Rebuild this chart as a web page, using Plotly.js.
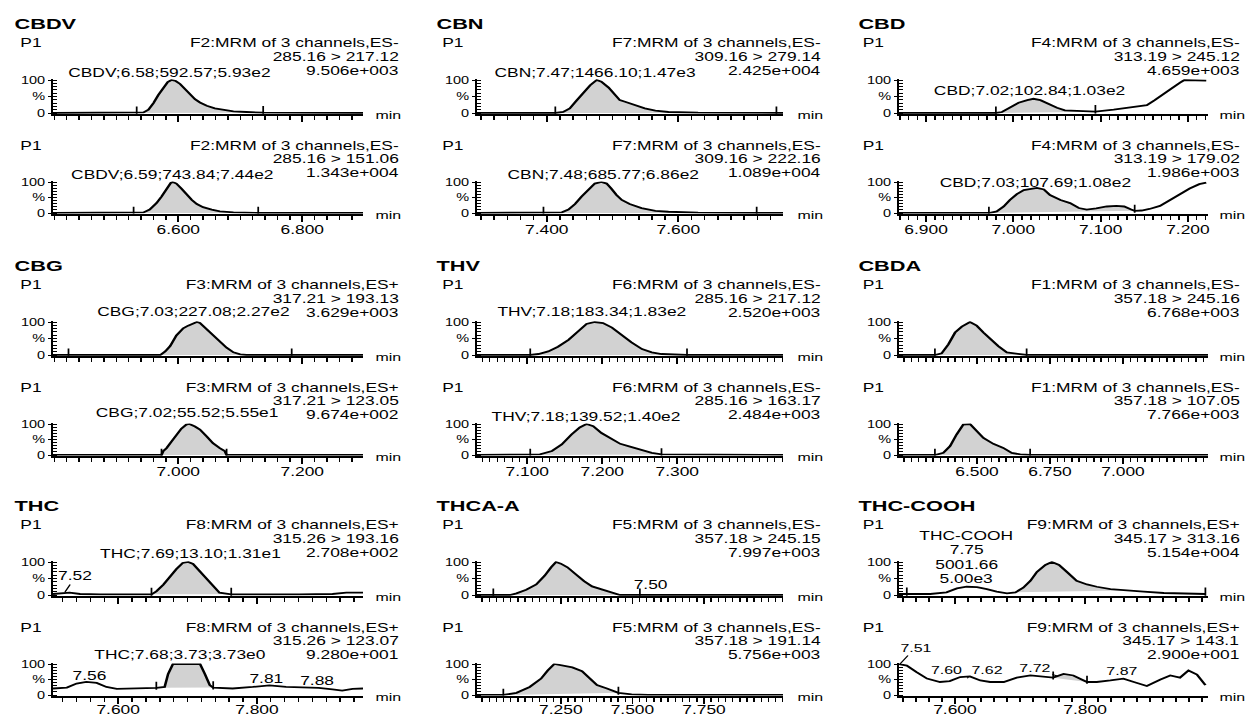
<!DOCTYPE html>
<html>
<head>
<meta charset="utf-8">
<script src="https://cdn.plot.ly/plotly-3.0.1.min.js"></script>
<style>
html,body{margin:0;padding:0;background:#fff;overflow:hidden;}
#wrap{width:1247px;height:717px;overflow:hidden;}
#chart{width:860px;height:717px;transform:scaleX(1.45);transform-origin:0 0;}
</style>
</head>
<body>
<div id="wrap"><div id="chart"></div></div>
<script>
// ---------------- DATA ----------------
const compounds = ["CBDV", "CBN", "CBD", "CBG", "THV", "CBDA", "THC", "THCA-A", "THC-COOH"];
const functionNo = [2, 7, 4, 3, 6, 1, 8, 5, 9];
const ionMode = ["ES-", "ES-", "ES-", "ES+", "ES-", "ES-", "ES+", "ES-", "ES+"];
const parentMz = [285.16, 309.16, 313.19, 317.21, 285.16, 357.18, 315.26, 357.18, 345.17];
const daughterMzA = [217.12, 279.14, 245.12, 193.13, 217.12, 245.16, 193.16, 245.15, 313.16];
const daughterMzB = [151.06, 222.16, 179.02, 123.05, 163.17, 107.05, 123.07, 191.14, 143.1];
const intensityA = [9506, 24250, 4659, 3629, 2520, 6768, 270.8, 7997, 51540];
const intensityB = [13430, 10890, 1986, 967.4, 2484, 7766, 92.80, 5756, 29.00];

const peakRtA = [6.58, 7.47, 7.02, 7.03, 7.18, null, 7.69, null, 7.75];
const peakAreaA = [592.57, 1466.10, 102.84, 227.08, 183.34, null, 13.10, null, 5001.66];
const peakHeightA = [593, 1470, 103, 227, 183, null, 13.1, null, 5000];
const peakRtB = [6.59, 7.48, 7.03, 7.02, 7.18, null, 7.68, null, null];
const peakAreaB = [743.84, 685.77, 107.69, 55.52, 139.52, null, 3.73, null, null];
const peakHeightB = [744, 686, 108, 55.5, 140, null, 3.73, null, null];

// retention-time axes (min)
const timeRange = [[6.398, 6.898], [7.294, 7.759], [6.869, 7.223], [6.798, 7.298], [7.033, 7.441],
                   [6.233, 7.291], [7.506, 7.953], [6.957, 8.026], [7.514, 7.989]];
const tickLabels = [[6.6, 6.8], [7.4, 7.6], [6.9, 7.0, 7.1, 7.2], [7.0, 7.2], [7.1, 7.2, 7.3],
                    [6.5, 6.75, 7.0], [7.6, 7.8], [7.25, 7.5, 7.75], [7.6, 7.8]];
const minorStep = [0.02, 0.02, 0.01, 0.02, 0.01, 0.025, 0.02, 0.025, 0.02];

// chromatograms: time (min) and relative intensity (%)
const cbdvTimeA = [6.398, 6.533, 6.544, 6.552, 6.560, 6.568, 6.576, 6.583, 6.589, 6.596, 6.603, 6.611, 6.619, 6.627, 6.635, 6.646, 6.659, 6.673, 6.689, 6.710, 6.737, 6.898];
const cbdvPctA  = [0, 0, 2, 10, 30, 55, 78, 94, 100, 97, 88, 72, 55, 42, 32, 22, 14, 9, 5, 3, 1, 0];
const cbdvTimeB = [6.398, 6.528, 6.544, 6.554, 6.565, 6.573, 6.581, 6.588, 6.591, 6.597, 6.605, 6.614, 6.622, 6.630, 6.640, 6.654, 6.667, 6.689, 6.729, 6.898];
const cbdvPctB  = [0, 0, 2, 11, 32, 53, 79, 97, 100, 95, 79, 58, 42, 29, 19, 11, 5, 2, 0, 0];

const cbnTimeA = [7.294, 7.413, 7.425, 7.435, 7.445, 7.456, 7.466, 7.476, 7.483, 7.494, 7.504, 7.511, 7.519, 7.534, 7.549, 7.565, 7.585, 7.630, 7.749, 7.759];
const cbnPctA  = [0, 0, 3, 14, 37, 63, 84, 100, 95, 77, 53, 39, 34, 23, 14, 7, 3, 1, 0, 0];
const cbnTimeB = [7.294, 7.395, 7.423, 7.433, 7.443, 7.453, 7.463, 7.473, 7.483, 7.491, 7.498, 7.506, 7.514, 7.526, 7.544, 7.565, 7.585, 7.630, 7.719, 7.759];
const cbnPctB  = [0, 0, 2, 11, 29, 53, 76, 95, 100, 95, 79, 58, 42, 29, 16, 7, 4, 1, 0, 0];

const cbdTimeA = [6.869, 6.980, 6.987, 6.997, 7.006, 7.016, 7.023, 7.031, 7.040, 7.050, 7.059, 7.073, 7.088, 7.094, 7.115, 7.134, 7.153, 7.162, 7.172, 7.181, 7.191, 7.196, 7.221];
const cbdPctA  = [0, 0, 3, 18, 31, 39, 43, 39, 27, 16, 8, 6, 5, 4, 10, 16, 24, 39, 56, 74, 92, 100, 98];
const cbdTimeB = [6.869, 6.972, 6.981, 6.989, 6.996, 7.004, 7.012, 7.019, 7.027, 7.035, 7.042, 7.054, 7.065, 7.075, 7.084, 7.095, 7.107, 7.118, 7.127, 7.135, 7.139, 7.147, 7.156, 7.168, 7.179, 7.190, 7.202, 7.213, 7.221];
const cbdPctB  = [0, 0, 5, 21, 42, 61, 74, 78, 81, 76, 58, 42, 32, 16, 11, 15, 21, 23, 21, 11, 7, 8, 13, 23, 42, 61, 79, 93, 98];

const cbgTimeA = [6.798, 6.971, 6.979, 6.987, 6.997, 7.008, 7.016, 7.024, 7.030, 7.035, 7.046, 7.057, 7.067, 7.078, 7.089, 7.100, 7.110, 7.298];
const cbgPctA  = [0, 0, 11, 27, 59, 81, 89, 94, 100, 97, 78, 59, 40, 22, 8, 2, 0, 0];
const cbgTimeB = [6.798, 6.973, 6.976, 6.981, 6.989, 6.997, 7.005, 7.013, 7.018, 7.027, 7.035, 7.046, 7.056, 7.067, 7.075, 7.078, 7.298];
const cbgPctB  = [0, 0, 13, 22, 43, 65, 85, 98, 100, 92, 82, 60, 38, 22, 13, 0, 0];

const thvTimeA = [7.033, 7.104, 7.115, 7.128, 7.141, 7.155, 7.168, 7.179, 7.190, 7.201, 7.213, 7.226, 7.239, 7.253, 7.266, 7.279, 7.297, 7.313, 7.441];
const thvPctA  = [0, 0, 3, 11, 25, 46, 72, 94, 100, 97, 83, 61, 38, 18, 8, 3, 2, 0, 0];
const thvTimeB = [7.033, 7.104, 7.117, 7.133, 7.146, 7.159, 7.170, 7.179, 7.188, 7.199, 7.213, 7.224, 7.237, 7.253, 7.266, 7.279, 7.441];
const thvPctB  = [0, 0, 2, 13, 34, 66, 89, 100, 93, 71, 50, 36, 27, 15, 7, 2, 0];

const cbdaTimeA = [6.233, 6.356, 6.379, 6.402, 6.425, 6.448, 6.476, 6.499, 6.522, 6.545, 6.573, 6.602, 6.636, 6.670, 7.291];
const cbdaPctA  = [0, 0, 5, 32, 68, 86, 100, 89, 68, 48, 27, 8, 3, 0, 0];
const cbdaTimeB = [6.233, 6.356, 6.385, 6.408, 6.430, 6.453, 6.476, 6.499, 6.522, 6.556, 6.590, 6.619, 6.648, 6.682, 7.291];
const cbdaPctB  = [0, 0, 7, 29, 66, 98, 100, 77, 55, 36, 23, 7, 2, 0, 0];

const thcTimeA = [7.506, 7.516, 7.530, 7.545, 7.574, 7.648, 7.655, 7.665, 7.674, 7.684, 7.693, 7.701, 7.708, 7.718, 7.727, 7.737, 7.746, 7.763, 7.813, 7.861, 7.909, 7.929, 7.953];
const thcPctA  = [3, 5, 7, 3, 2, 2, 11, 31, 54, 79, 97, 100, 94, 71, 48, 25, 7, 2, 1, 2, 3, 7, 7];
const thcTimeB = [7.506, 7.526, 7.540, 7.554, 7.569, 7.583, 7.598, 7.641, 7.655, 7.667, 7.672, 7.679, 7.718, 7.725, 7.732, 7.737, 7.765, 7.794, 7.818, 7.842, 7.870, 7.889, 7.909, 7.923, 7.938, 7.953];
const thcPctB  = [21, 24, 37, 42, 39, 26, 20, 21, 23, 26, 68, 100, 100, 68, 32, 24, 21, 26, 31, 26, 24, 23, 18, 14, 20, 21];

const thcaTimeA = [6.957, 7.014, 7.072, 7.095, 7.129, 7.164, 7.193, 7.216, 7.233, 7.250, 7.273, 7.302, 7.331, 7.359, 7.394, 7.428, 7.457, 7.526, 8.026];
const thcaPctA  = [0, 0, 0, 5, 16, 32, 58, 84, 100, 95, 84, 63, 42, 26, 16, 7, 0, 0, 0];
const thcaTimeB = [6.957, 7.049, 7.095, 7.141, 7.181, 7.204, 7.227, 7.256, 7.290, 7.324, 7.348, 7.376, 7.411, 7.451, 7.497, 7.555, 8.026];
const thcaPctB  = [0, 0, 7, 26, 53, 79, 100, 95, 89, 77, 58, 32, 21, 7, 2, 0, 0];

const coohTimeA = [7.514, 7.526, 7.562, 7.587, 7.603, 7.618, 7.634, 7.649, 7.664, 7.680, 7.693, 7.705, 7.716, 7.726, 7.739, 7.749, 7.760, 7.772, 7.787, 7.803, 7.818, 7.839, 7.859, 7.890, 7.921, 7.951, 7.985];
const coohPctA  = [3, 3, 3, 8, 20, 25, 24, 18, 10, 5, 8, 22, 43, 70, 91, 100, 91, 70, 43, 32, 25, 18, 14, 10, 6, 4, 3];
const coohTimeB = [7.514, 7.526, 7.541, 7.557, 7.577, 7.592, 7.608, 7.623, 7.639, 7.654, 7.675, 7.695, 7.716, 7.736, 7.751, 7.767, 7.782, 7.803, 7.818, 7.839, 7.859, 7.875, 7.895, 7.916, 7.931, 7.946, 7.959, 7.972, 7.985];
const coohPctB  = [100, 95, 74, 53, 42, 45, 58, 60, 47, 42, 42, 56, 63, 60, 56, 68, 63, 42, 42, 47, 53, 42, 29, 50, 63, 56, 79, 66, 32];

// integration start/end markers (min)
const cbdvMarksA = [6.533, 6.737], cbdvMarksB = [6.528, 6.729];
const cbnMarksA = [7.413, 7.749], cbnMarksB = [7.395, 7.719];
const cbdMarksA = [6.980, 7.094], cbdMarksB = [6.972, 7.139];
const cbgMarksA = [6.823, 7.183], cbgMarksB = [6.973, 7.078];
const thvMarksA = [7.104, 7.313], thvMarksB = [7.104, 7.279];
const cbdaMarksA = [6.356, 6.670], cbdaMarksB = [6.356, 6.682];
const thcMarksA = [7.648, 7.763], thcMarksB = [7.655, 7.737];
const thcaMarksA = [7.014, 7.526], thcaMarksB = [7.049, 7.451];
const coohMarksA = [7.526, 7.985], coohMarksB = [7.751, 7.803];

// integrated (shaded) areas (min)
const cbdvAreaA = [6.533, 6.737], cbdvAreaB = [6.528, 6.729];
const cbnAreaA = [7.413, 7.749], cbnAreaB = [7.395, 7.719];
const cbdAreaA = [6.980, 7.094], cbdAreaB = [6.972, 7.139];
const cbgAreaA = [6.971, 7.110], cbgAreaB = [6.973, 7.078];
const thvAreaA = [7.104, 7.313], thvAreaB = [7.104, 7.279];
const cbdaAreaA = [6.356, 6.670], cbdaAreaB = [6.356, 6.682];
const thcAreaA = [7.648, 7.763], thcAreaB = [7.655, 7.737];
const thcaAreaA = [7.072, 7.457], thcaAreaB = [7.049, 7.451];
const coohAreaA = [7.693, 7.859], coohAreaB = [7.751, 7.803];

// small peak retention-time labels
const thcPeakLabelsA = ["7.52"];
const thcPeakLabelsB = ["7.56", "7.81", "7.88"];
const thcaPeakLabelsA = ["7.50"];
const coohPeakLabelsB = ["7.51", "7.60", "7.62", "7.72", "7.87"];

// ---------------- LAYOUT / STYLE ----------------
const W = 1247, H = 717, S = 1.45;
const FONT = 'Liberation Sans, Arial, Helvetica, sans-serif';
const colL = [53, 477, 899], colR = [363, 783, 1208];
const colTitleX = [12, 433, 855], colP1X = [18, 440, 860], colTextR = [402, 823, 1243];
const colMinX = [373, 794, 1216];
const rowOff = [0, 242, 482];
const titleY = 23;
const subGeom = [
  {l1: 43, l2: 57, l3: 71, top: 80, base: 113},
  {l1: 146, l2: 159, l3: 173, top: 182, base: 213}
];
const labelPosA = [[169, 73], [595, 73], [1029, 91], [194, 312], [592, 312], null, [190, 554], null, [967, 536]];
const labelPosB = [[172, 175], [603, 175], [1036, 183], [187, 413], [587, 417], null, [180, 655], null, null];
// small label placement: [textX, textY, tipX, tipY, fontSize] (tip null = no leader)
const smallLabelPlace = {
  "6-0": [[76, 576, 65, 592, 12]],
  "6-1": [[90, 676, null, null, 12], [267, 679, null, null, 12], [317, 681, null, null, 12]],
  "7-0": [[651, 585, null, null, 12]],
  "8-1": [[915, 648, 900, 664, 11], [946, 670, null, null, 11], [986, 670, 967, 678, 11], [1035, 668, 1057, 676, 11], [1122, 671, null, null, 11]]
};
const smallLabelText = {"6-0": thcPeakLabelsA, "6-1": thcPeakLabelsB, "7-0": thcaPeakLabelsA, "8-1": coohPeakLabelsB};

const curveT = [[cbdvTimeA, cbdvTimeB], [cbnTimeA, cbnTimeB], [cbdTimeA, cbdTimeB], [cbgTimeA, cbgTimeB], [thvTimeA, thvTimeB],
                [cbdaTimeA, cbdaTimeB], [thcTimeA, thcTimeB], [thcaTimeA, thcaTimeB], [coohTimeA, coohTimeB]];
const curveY = [[cbdvPctA, cbdvPctB], [cbnPctA, cbnPctB], [cbdPctA, cbdPctB], [cbgPctA, cbgPctB], [thvPctA, thvPctB],
                [cbdaPctA, cbdaPctB], [thcPctA, thcPctB], [thcaPctA, thcaPctB], [coohPctA, coohPctB]];
const marks = [[cbdvMarksA, cbdvMarksB], [cbnMarksA, cbnMarksB], [cbdMarksA, cbdMarksB], [cbgMarksA, cbgMarksB], [thvMarksA, thvMarksB],
               [cbdaMarksA, cbdaMarksB], [thcMarksA, thcMarksB], [thcaMarksA, thcaMarksB], [coohMarksA, coohMarksB]];
const areas = [[cbdvAreaA, cbdvAreaB], [cbnAreaA, cbnAreaB], [cbdAreaA, cbdAreaB], [cbgAreaA, cbgAreaB], [thvAreaA, thvAreaB],
               [cbdaAreaA, cbdaAreaB], [thcAreaA, thcAreaB], [thcaAreaA, thcaAreaB], [coohAreaA, coohAreaB]];

const fx = x => x / W;
const fy = y => 1 - y / H;
const fmtInt = v => { const [m, e] = v.toExponential(3).split('e'); const n = parseInt(e, 10);
  return m + 'e' + (n < 0 ? '-' : '+') + String(Math.abs(n)).padStart(3, '0'); };
const fmtH = v => v.toExponential(2).replace('e+', 'e');
const nearestVal = (ts, vs, t) => { let bi = 0, bd = Infinity; ts.forEach((x, i) => { const d = Math.abs(x - t); if (d < bd) { bd = d; bi = i; } }); return vs[bi]; };

const traces = [];
const layout = {
  width: 860, height: 717, margin: {l: 0, r: 0, t: 0, b: 0, pad: 0},
  paper_bgcolor: '#fff', plot_bgcolor: 'rgba(0,0,0,0)', showlegend: false,
  font: {family: FONT, size: 12, color: '#000'}, annotations: []
};
const ann = (text, xpx, ypx, extra) => Object.assign({
  text, x: fx(xpx), y: fy(ypx), xref: 'paper', yref: 'paper', showarrow: false,
  xanchor: 'center', yanchor: 'middle', font: {family: FONT, size: 12, color: '#000'}
}, extra || {});

compounds.forEach((name, p) => {
  const c = p % 3, r = Math.floor(p / 3), dy = rowOff[r];
  layout.annotations.push(ann('<b>' + name + '</b>', colTitleX[c], titleY + dy,
    {xanchor: 'left', font: {family: FONT, size: 15, color: '#000'}}));
  [0, 1].forEach(s => {
    const k = p * 2 + s + 1, ks = k === 1 ? '' : String(k);
    const g = subGeom[s];
    const top = g.top + dy, base = g.base + dy, pp = (base - top) / 100;
    const tv = tickLabels[p];
    layout['xaxis' + ks] = {
      domain: [fx(colL[c]), fx(colR[c])], range: timeRange[p], anchor: 'y' + ks,
      showline: true, linecolor: '#000', linewidth: 2, showgrid: false, zeroline: false,
      tickmode: 'array', tickvals: tv, ticktext: tv.map(v => v.toFixed(3)),
      ticks: 'outside', ticklen: 6, tickwidth: 1.2, tickcolor: '#000',
      ticklabelstandoff: r === 2 ? -4 : -2,
      showticklabels: s === 1, tickfont: {family: FONT, size: 12, color: '#000'},
      minor: {tickmode: 'linear', tick0: 0, dtick: minorStep[p], ticks: 'outside', ticklen: 4, tickwidth: 1, tickcolor: '#000'},
      fixedrange: true
    };
    layout['yaxis' + ks] = {
      domain: [fy(base + 2 * pp), fy(top - 2 * pp)], range: [-2, 102], anchor: 'x' + ks,
      showline: true, linecolor: '#000', linewidth: 1.4, showgrid: false, zeroline: false,
      tickmode: 'array', tickvals: [0, 50, 100], ticktext: ['0', '%', '100'],
      ticks: 'outside', ticklen: 2, tickwidth: 1, tickcolor: '#000',
      tickfont: {family: FONT, size: 10, color: '#000'},
      minor: {tickmode: 'linear', tick0: 0, dtick: 10, ticks: 'inside', ticklen: 3, tickwidth: 1, tickcolor: '#000'},
      fixedrange: true
    };
    const ts = curveT[p][s], vs = curveY[p][s];
    const [a0, a1] = areas[p][s];
    const fxs = [], fys = [];
    ts.forEach((t, i) => { if (t >= a0 - 1e-9 && t <= a1 + 1e-9) { fxs.push(t); fys.push(vs[i]); } });
    traces.push({type: 'scatter', mode: 'lines', x: fxs, y: fys, xaxis: 'x' + ks, yaxis: 'y' + ks,
      fill: 'toself', fillcolor: '#d2d2d2', line: {width: 0, color: 'rgba(0,0,0,0)'}, hoverinfo: 'skip'});
    traces.push({type: 'scatter', mode: 'lines', x: ts, y: vs, xaxis: 'x' + ks, yaxis: 'y' + ks,
      line: {color: '#000', width: 1.8}, hoverinfo: 'skip'});
    const mx = [], my = [];
    marks[p][s].forEach(t => { const v = nearestVal(ts, vs, t); mx.push(t, t, null); my.push(v - 6, v + 20, null); });
    traces.push({type: 'scatter', mode: 'lines', x: mx, y: my, xaxis: 'x' + ks, yaxis: 'y' + ks,
      line: {color: '#000', width: 1.2}, hoverinfo: 'skip'});

    // header texts
    layout.annotations.push(ann('P1', colP1X[c], g.l1 + dy, {xanchor: 'left'}));
    layout.annotations.push(ann('F' + functionNo[p] + ':MRM of 3 channels,' + ionMode[p], colTextR[c], g.l1 + dy, {xanchor: 'right'}));
    const dau = s === 0 ? daughterMzA[p] : daughterMzB[p];
    layout.annotations.push(ann(parentMz[p].toFixed(2) + ' &gt; ' + String(dau), colTextR[c], g.l2 + dy, {xanchor: 'right'}));
    layout.annotations.push(ann(fmtInt(s === 0 ? intensityA[p] : intensityB[p]), colTextR[c], g.l3 + dy, {xanchor: 'right'}));
    layout.annotations.push(ann('min', colMinX[c], base + 2, {xanchor: 'left', font: {family: FONT, size: 11, color: '#000'}}));

    // peak label
    const rt = s === 0 ? peakRtA[p] : peakRtB[p];
    const pos = s === 0 ? labelPosA[p] : labelPosB[p];
    if (rt !== null && pos) {
      const area = s === 0 ? peakAreaA[p] : peakAreaB[p];
      const h = s === 0 ? peakHeightA[p] : peakHeightB[p];
      if (name === 'THC-COOH') {
        [name, rt.toFixed(2), area.toFixed(2), fmtH(h)].forEach((t, i) =>
          layout.annotations.push(ann(t, pos[0], pos[1] + i * 14.4)));
      } else {
        layout.annotations.push(ann(name + ';' + rt.toFixed(2) + ';' + area.toFixed(2) + ';' + fmtH(h), pos[0], pos[1]));
      }
    }
    // small labels
    const key = p + '-' + s;
    if (smallLabelText[key]) {
      smallLabelText[key].forEach((t, i) => {
        const pl = smallLabelPlace[key][i];
        const f = {family: FONT, size: pl[4], color: '#000'};
        if (pl[2] !== null) {
          layout.annotations.push({text: t, xref: 'paper', yref: 'paper', x: fx(pl[2]), y: fy(pl[3]),
            showarrow: true, arrowhead: 0, arrowwidth: 1, arrowcolor: '#000', standoff: 0,
            ax: (pl[0] - pl[2]) / S, ay: pl[1] - pl[3], font: f});
        } else {
          layout.annotations.push(ann(t, pl[0], pl[1], {font: f}));
        }
      });
    }
  });
});

Plotly.newPlot('chart', traces, layout, {displayModeBar: false, staticPlot: true});
</script>
</body>
</html>
